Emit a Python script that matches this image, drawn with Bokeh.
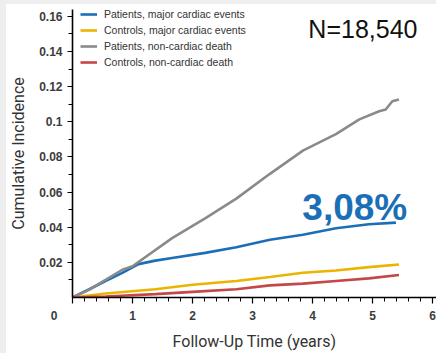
from bokeh.plotting import figure
from bokeh.models import (Range1d, FixedTicker, Label, Legend, LegendItem, Div)
from bokeh.layouts import column, row
from bokeh.embed import file_html
from bokeh.resources import INLINE

# ---- data ----
pat_mace_t = [0, 0.28, 0.55, 0.83, 1.1, 1.38, 1.66, 2.21, 2.73, 3.29, 3.84, 4.39, 4.94, 5.39]
pat_mace_v = [0, 0.0047, 0.0094, 0.0140, 0.0190, 0.0210, 0.0225, 0.0254, 0.0286, 0.0329, 0.0357, 0.0394, 0.0417, 0.0426]

ctl_mace_t = [0, 0.55, 1.38, 2.0, 2.73, 3.29, 3.84, 4.39, 4.94, 5.44]
ctl_mace_v = [0, 0.0023, 0.0047, 0.0073, 0.0094, 0.0117, 0.0141, 0.0154, 0.0173, 0.0188]

pat_death_t = [0, 0.28, 0.55, 0.83, 1.0, 1.66, 2.21, 2.73, 3.29, 3.84, 4.39, 4.78, 5.11, 5.22, 5.33, 5.44]
pat_death_v = [0, 0.0045, 0.0100, 0.0158, 0.0178, 0.0338, 0.0450, 0.0563, 0.0704, 0.0836, 0.0930, 0.1014, 0.1060, 0.1070, 0.1117, 0.1127]

ctl_death_t = [0, 0.55, 1.38, 2.0, 2.73, 3.29, 3.84, 4.39, 4.94, 5.44]
ctl_death_v = [0, 0.0006, 0.0019, 0.0032, 0.0047, 0.0069, 0.0079, 0.0094, 0.0109, 0.0128]

series_names = ["Patients, major cardiac events", "Controls, major cardiac events",
                "Patients, non-cardiac death", "Controls, non-cardiac death"]
series_colors = ["#1b6fb7", "#eab400", "#8a8a8a", "#c4474a"]

x_ticks = [0, 1, 2, 3, 4, 5, 6]
x_tick_labels = ["0" + "\u00a0" * 11, "1", "2", "3", "4", "5", "6"]
y_ticks = [0.02, 0.04, 0.06, 0.08, 0.10, 0.12, 0.14, 0.16]
y_tick_labels = ["0.02", "0.04", "0.06", "0.08", "0.1", "0.12", "0.14", "0.16"]

n_label = "N=18,540"
pct_label = "3,08%"

# ---- figure ----
p = figure(width=430, height=349, output_backend="svg", toolbar_location=None,
           x_range=Range1d(0, 6.066), y_range=Range1d(0, 0.16394),
           min_border_left=64, min_border_right=0, min_border_top=5, min_border_bottom=53)
p.outline_line_color = None
p.xgrid.visible = False
p.ygrid.visible = False
p.background_fill_color = "white"
p.border_fill_color = "white"

data = [(pat_mace_t, pat_mace_v), (ctl_mace_t, ctl_mace_v),
        (pat_death_t, pat_death_v), (ctl_death_t, ctl_death_v)]
renderers = []
for (t, v), c in zip(data, series_colors):
    r = p.line(t, v, line_color=c, line_width=2.6)
    renderers.append(r)

tick_font = "Liberation Sans"
title_font = "Roboto"

for ax in (p.xaxis[0], p.yaxis[0]):
    ax.axis_line_color = "black"
    ax.axis_line_width = 1.6
    ax.major_tick_line_color = "black"
    ax.minor_tick_line_color = "black"
    ax.major_tick_line_width = 1.2
    ax.minor_tick_line_width = 1
    ax.major_tick_in = 0
    ax.minor_tick_in = 0
    ax.major_label_text_font = tick_font
    ax.major_label_text_font_style = "bold"
    ax.major_label_text_font_size = "12px"
    ax.major_label_text_color = "#3c3c3c"
    ax.axis_label_text_font = title_font
    ax.axis_label_text_font_style = "normal"
    ax.axis_label_text_font_size = "16px"
    ax.axis_label_text_color = "#333333"

xt = [i * 0.2 for i in range(1, 31)]
p.xaxis.ticker = FixedTicker(ticks=x_ticks, minor_ticks=xt)
p.xaxis.major_label_overrides = {k: s for k, s in zip(x_ticks, x_tick_labels)}
p.xaxis.major_tick_out = 6
p.xaxis.minor_tick_out = 4
p.xaxis.major_label_standoff = 5
p.xaxis.axis_label = "Follow-Up Time (years)"
p.xaxis.axis_label_standoff = 6

yt = [0.01 + 0.02 * i for i in range(8)]
p.yaxis.ticker = FixedTicker(ticks=y_ticks, minor_ticks=yt)
p.yaxis.major_label_overrides = {k: s for k, s in zip(y_ticks, y_tick_labels)}
p.yaxis.major_tick_out = 5
p.yaxis.minor_tick_out = 4
p.yaxis.major_label_standoff = 5
p.yaxis.axis_label = "Cumulative Incidence"
p.yaxis.axis_label_standoff = 8

# annotations
p.add_layout(Label(x=3.93, y=0.1530, text=n_label, text_font="Liberation Sans",
                   text_font_size="25px", text_color="#111111", text_baseline="alphabetic"))
p.add_layout(Label(x=3.83, y=0.0513, text=pct_label, text_font="Liberation Sans",
                   text_font_style="bold", text_font_size="37px", text_color="#1b6fb7",
                   text_baseline="alphabetic"))

legend = Legend(items=[LegendItem(label=n, renderers=[r]) for n, r in zip(series_names, renderers)],
                location=(8, 227), orientation="vertical")
legend.padding = 0
legend.margin = 0
legend.spacing = 0
legend.label_height = 16
legend.glyph_height = 16
legend.glyph_width = 17
legend.label_standoff = 7
legend.label_text_font = "Liberation Sans"
legend.label_text_font_size = "10.5px"
legend.label_text_color = "#333333"
legend.background_fill_alpha = 0
legend.border_line_alpha = 0
p.add_layout(legend, "center")

left_strip = Div(text="", width=6, height=349, margin=0, styles={"background-color": "#eeeeee"})
top_strip = Div(text="", width=436, height=4, margin=0, styles={"background-color": "#eeeeee"})
layout = column(top_strip, row(left_strip, p, spacing=0), spacing=0)

open("out.html", "w").write(file_html(layout, INLINE))
